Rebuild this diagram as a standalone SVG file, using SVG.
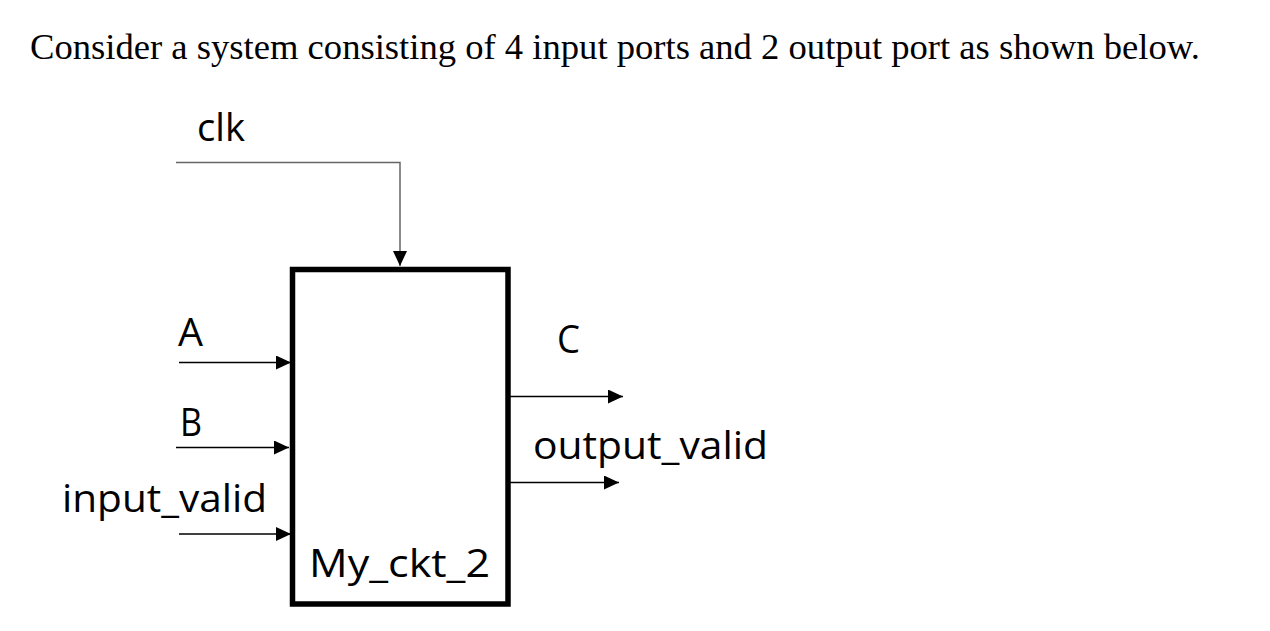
<svg xmlns="http://www.w3.org/2000/svg" width="1270" height="631" viewBox="0 0 1270 631">
<style>
.lbl{font-family:"Open Sans","Liberation Sans",Arial,sans-serif;font-size:39px;fill:#000}
.title{font-family:"Liberation Serif","Times New Roman",serif;font-size:35px;fill:#000}
.wire{fill:none;stroke:#000;stroke-width:1.3}
.clkw{fill:none;stroke:#666;stroke-width:1.5}
</style>
<defs>
<marker id="ah" markerUnits="userSpaceOnUse" markerWidth="15" markerHeight="14" refX="15" refY="7" orient="auto">
<path d="M0,0 L15,7 L0,14 Z" fill="#000"/>
</marker>
</defs>
<rect width="1270" height="631" fill="#fff"/>
<text class="title" x="30" y="59" textLength="1170" lengthAdjust="spacingAndGlyphs">Consider a system consisting of 4 input ports and 2 output port as shown below.</text>
<g id="connectors">
<path class="clkw" d="M176,162.5 H400 V266" marker-end="url(#ah)"/>
<path class="wire" d="M179,362.5 H291" marker-end="url(#ah)"/>
<path class="wire" d="M176,447.5 H289" marker-end="url(#ah)"/>
<path class="wire" d="M179,534 H291" marker-end="url(#ah)"/>
<path class="wire" d="M510,396.5 H623" marker-end="url(#ah)"/>
<path class="wire" d="M510,482.5 H619" marker-end="url(#ah)"/>
</g>
<g id="my_ckt_2">
<rect x="292.5" y="269.5" width="215.5" height="334.5" fill="none" stroke="#000" stroke-width="5.5"/>
<text class="lbl" x="309" y="577" textLength="181" lengthAdjust="spacingAndGlyphs">My_ckt_2</text>
</g>
<g id="label-clk"><text class="lbl" x="197" y="141" textLength="48" lengthAdjust="spacingAndGlyphs">clk</text></g>
<g id="label-A"><text class="lbl" x="178" y="346" textLength="25" lengthAdjust="spacingAndGlyphs">A</text></g>
<g id="label-B"><text class="lbl" x="180" y="436" textLength="22" lengthAdjust="spacingAndGlyphs">B</text></g>
<g id="label-input_valid"><text class="lbl" x="62" y="512" textLength="205" lengthAdjust="spacingAndGlyphs">input_valid</text></g>
<g id="label-C"><text class="lbl" x="557" y="353" textLength="23" lengthAdjust="spacingAndGlyphs">C</text></g>
<g id="label-output_valid"><text class="lbl" x="533" y="459" textLength="235" lengthAdjust="spacingAndGlyphs">output_valid</text></g>
</svg>
